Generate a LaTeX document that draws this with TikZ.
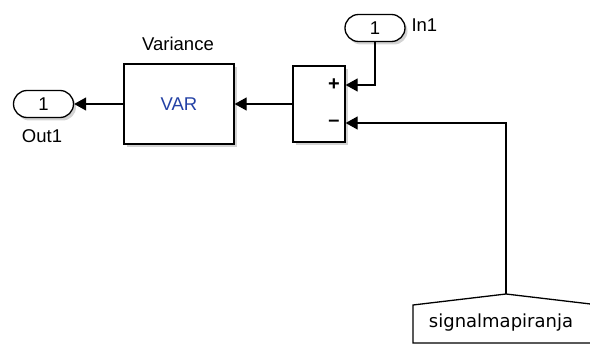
\documentclass[tikz,border=0pt]{standalone}
\usepackage{fontspec}
\setmainfont{Liberation Sans}
\newfontfamily\dejavu{DejaVu Sans}
\usetikzlibrary{arrows.meta,shapes.misc,shadows}
\definecolor{varblue}{RGB}{35,65,165}
\tikzset{
    blk/.style={
        draw,
        line width=1.3pt,
        fill=white,
        inner sep=0pt,
        drop shadow={shadow xshift=2.5pt,shadow yshift=-3pt,opacity=.35}
    },
    % oznake za ulaz/izlaz
    port/.style={
        blk,
        rounded rectangle,
        minimum width=60pt,
        minimum height=27pt
    },
    sig/.style={
        line width=1.2pt,
        -{Triangle[length=12pt,width=13pt]}
    },
    lbl/.style={font=\fontsize{18.5}{22}\selectfont}
}

\begin{document}
\begin{tikzpicture}[x=1pt,y=-1pt]
    \useasboundingbox (0,0) rectangle (590,345);

    \node[port,lbl] (out1) at (43.5,104) {1};
    \node[lbl] (out1name) at (42,136) {Out1};
    \node[blk,minimum width=110pt,minimum height=80pt,lbl,text=varblue] (var) at (179,104) {VAR};
    \node[lbl] (varname) at (178,44) {Variance};
    \node[blk,minimum width=52pt,minimum height=76pt] (sum) at (319,104) {};
    \node[lbl,font=\fontsize{20}{22}\bfseries] (plus) at (334,85) {+};
    \node[lbl,font=\fontsize{20}{22}\bfseries] (minus) at (334,123) {--};
    \node[port,lbl] (in1) at (375,28) {1};
    \node[lbl,anchor=west] (in1name) at (408,25) {In1};

    % blok signalmapiranja
    \coordinate (apex) at (506,294);
    \draw[line width=1.3pt,fill=white]
    (413,343) -- (413,305) -- (apex) -- (599,305) -- (599,343) -- cycle;
    \node[font=\dejavu\fontsize{18}{21}\selectfont] (sigmap) at (501,323) {signalmapiranja};

    \draw[sig] (in1.south) |- (sum.east |- plus);
    \draw[sig] (apex) |- (sum.east |- minus);
    \draw[sig] (sum.west) -- (var.east);
    \draw[sig] (var.west) -- (out1.east);
\end{tikzpicture}
\end{document}
